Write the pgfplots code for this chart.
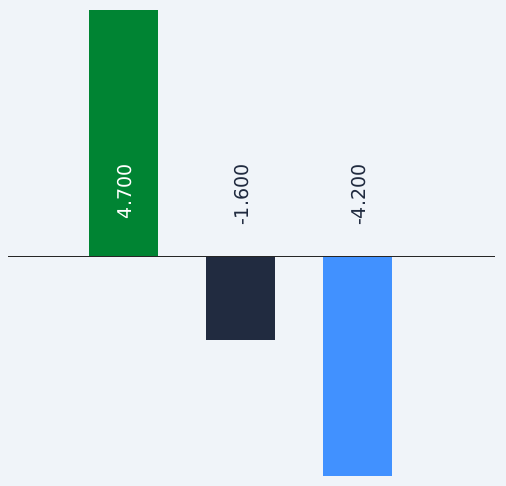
\documentclass[border=0pt]{standalone}
\usepackage{pgfplots}
\pgfplotsset{compat=1.18}
\usepackage{fontspec}
\setmainfont{DejaVu Sans}
\definecolor{bg}{RGB}{240,244,249}
\definecolor{cgreen}{RGB}{0,132,51}
\definecolor{cnavy}{RGB}{33,43,64}
\definecolor{cblue}{RGB}{65,145,255}
\begin{document}
\begin{tikzpicture}
\fill[bg] (0,0) rectangle (506bp,486bp);
\begin{axis}[
  at={(0,0)}, anchor=south west,
  scale only axis, width=506bp, height=486bp,
  xmin=-1.0556, xmax=3.2692,
  ymin=-4.391, ymax=4.891,
  axis lines=none, ticks=none,
  clip=false,
  ybar, bar width=69bp, bar shift=0pt,
]
\addplot[fill=cgreen, draw=none] coordinates {(0,4.7)};
\addplot[fill=cnavy, draw=none] coordinates {(1,-1.6)};
\addplot[fill=cblue, draw=none] coordinates {(2,-4.2)};
\draw[black!85, line width=0.8pt] (axis cs:-0.987,0) -- (axis cs:3.175,0);
\node[rotate=90, anchor=east, text=white, font=\fontsize{19bp}{22bp}\selectfont, inner sep=0pt] at (axis cs:0.01,1.75) {4.700};
\node[rotate=90, anchor=east, text=cnavy, font=\fontsize{19bp}{22bp}\selectfont, inner sep=0pt] at (axis cs:1.01,1.75) {-1.600};
\node[rotate=90, anchor=east, text=cnavy, font=\fontsize{19bp}{22bp}\selectfont, inner sep=0pt] at (axis cs:2.01,1.75) {-4.200};
\end{axis}
\end{tikzpicture}
\end{document}
